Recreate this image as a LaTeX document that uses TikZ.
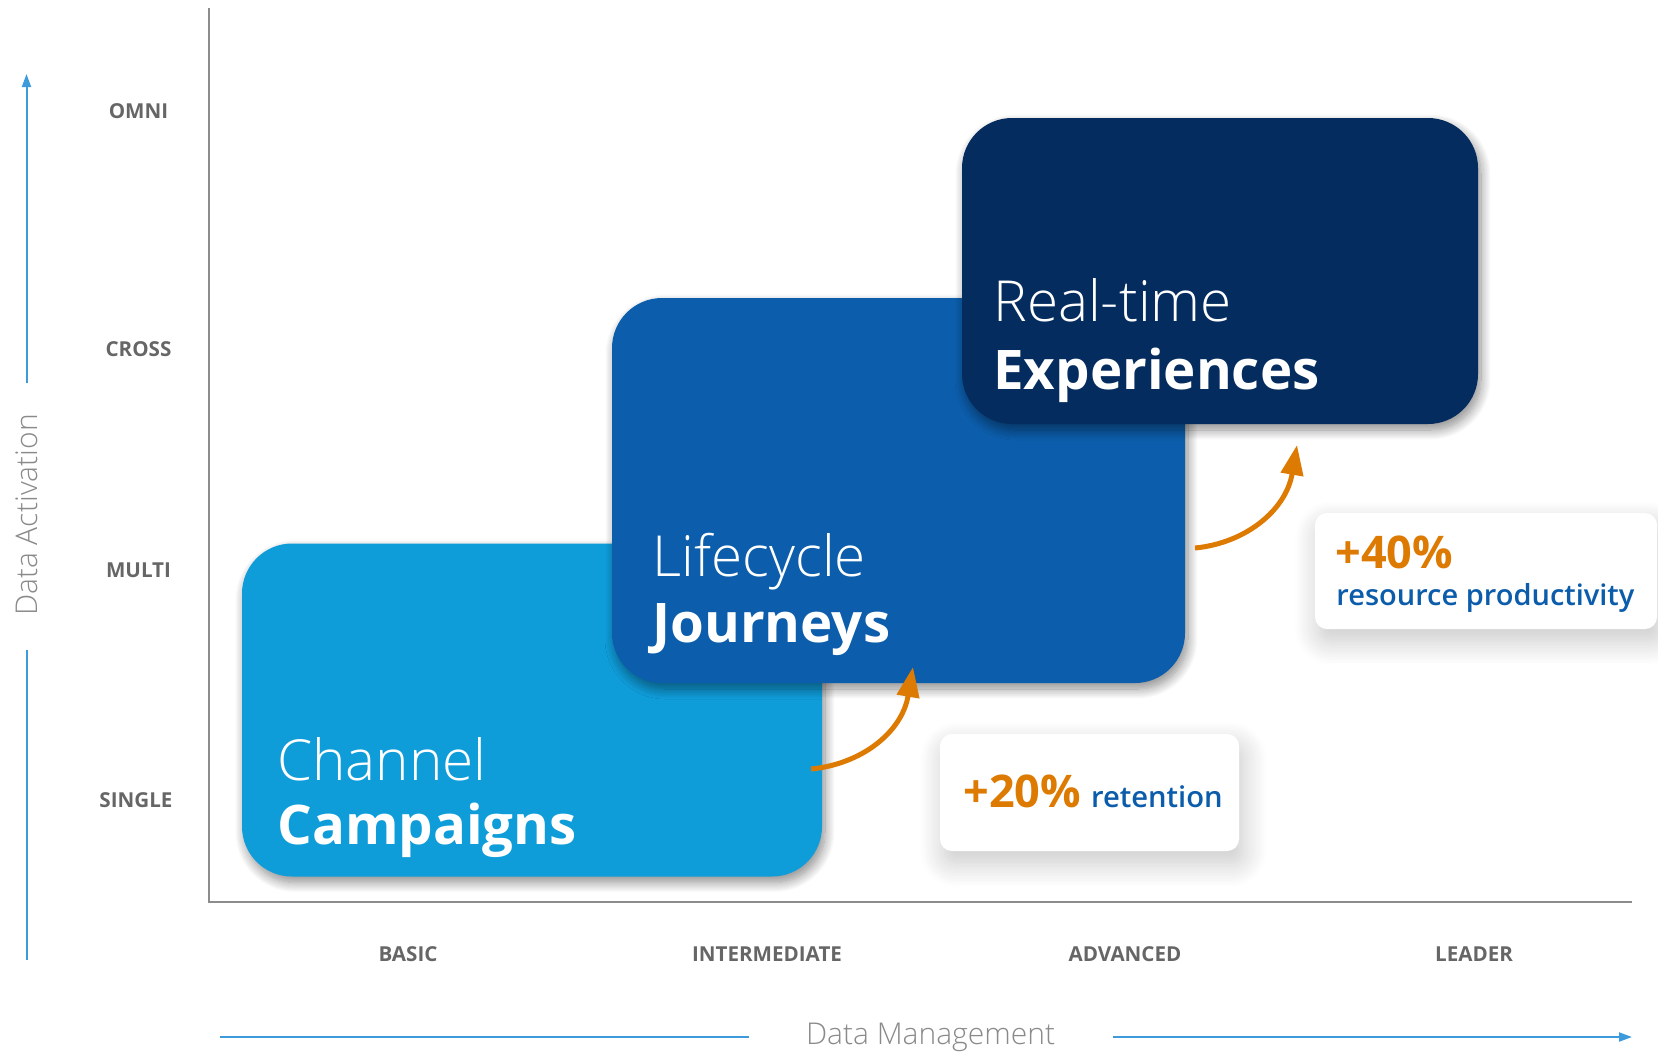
\documentclass[tikz,border=0pt]{standalone}
\usepackage{fontspec}
\setmainfont{Open Sans}
\newfontfamily\lightfont{Open Sans}[UprightFont={* Light}]
\newfontfamily\semifont{Open Sans}[UprightFont={* Semibold}]
\usetikzlibrary{arrows.meta,shadows.blur}

\definecolor{axisgray}{HTML}{8C8C8C}
\definecolor{labelgray}{HTML}{666666}
\definecolor{titlegray}{HTML}{8A8A8A}
\definecolor{axisblue}{HTML}{3D9BDC}
\definecolor{skyblue}{HTML}{0F9DDA}
\definecolor{midblue}{HTML}{0C5DAB}
\definecolor{navy}{HTML}{052C5E}
\definecolor{gainorange}{HTML}{DD7A01}
\definecolor{textblue}{HTML}{0B5CAB}

\begin{document}
\begin{tikzpicture}[x=0.5pt,y=-0.5pt,
  stagebox/.style={rounded corners=25pt, inner sep=0pt, draw=none,
    blur shadow={shadow xshift=1.5pt, shadow yshift=-3pt, shadow blur radius=5pt,
      shadow blur steps=12, shadow opacity=45}},
  gainbox/.style={rounded corners=6pt, fill=white, inner sep=0pt, draw=none,
    blur shadow={shadow xshift=2pt, shadow yshift=-6pt, shadow blur radius=12pt,
      shadow blur steps=16, shadow opacity=22}},
  levelname/.style={font=\bfseries\fontsize{10.3pt}{12pt}\selectfont, text=labelgray},
  axisname/.style={font=\lightfont\fontsize{15pt}{18pt}\selectfont, text=titlegray},
  lighttitle/.style={anchor=base west, inner sep=0pt, text=white,
    font=\lightfont\fontsize{28.3pt}{34pt}\selectfont},
  boldtitle/.style={anchor=base west, inner sep=0pt, text=white,
    font=\bfseries\fontsize{27.3pt}{34pt}\selectfont},
  growarrow/.style={draw=gainorange, line width=2.5pt,
    -{Triangle[length=15pt,width=11pt]}},
  axisarrow/.style={draw=axisblue, line width=1pt},
]
\useasboundingbox (0,0) rectangle (1658,1057);

% chart frame
\coordinate (ytop) at (209,8);
\coordinate (origin) at (209,902);
\coordinate (xend) at (1632,902);
\draw[axisgray, line width=1.3pt] (ytop) -- (origin) -- (xend);

% vertical axis: Data Activation
\node[axisname, rotate=90] (act) at (26.5,515) {Data Activation};
\coordinate (actlow) at (26.5,960);
\coordinate (acthigh) at (26.5,74);
\draw[axisarrow, -{Triangle[length=6.5pt,width=4.5pt]}] (26.5,383) coordinate (actup) -- (acthigh);
\draw[axisarrow] (actlow) -- (26.5,650) coordinate (actdown);

% horizontal axis: Data Management
\node[axisname] (mgmt) at (930.5,1037) {Data Management};
\coordinate (mgmtstart) at (220,1037);
\coordinate (mgmtend) at (1632,1037);
\draw[axisarrow] (mgmtstart) -- (749,1037);
\draw[axisarrow, -{Triangle[length=6.5pt,width=4.5pt]}] (1113,1037) -- (mgmtend);

% level names
\node[levelname] (omni) at (138.5,111) {OMNI};
\node[levelname] (cross) at (138.5,349) {CROSS};
\node[levelname] (multi) at (138.5,570) {MULTI};
\node[levelname] (single) at (136,800) {SINGLE};
\node[levelname] (basic) at (408,954) {BASIC};
\node[levelname] (inter) at (767,954) {INTERMEDIATE};
\node[levelname] (adv) at (1125,954) {ADVANCED};
\node[levelname] (leader) at (1474,954) {LEADER};

% maturity stages
\node[stagebox, fill=skyblue, minimum width=290pt, minimum height=166.5pt] (cc) at (532,710) {};
\node[lighttitle] (cc1) at (277,780) {Channel};
\node[boldtitle] (cc2) at (277,844) {Campaigns};

\node[stagebox, fill=midblue, minimum width=286.5pt, minimum height=192.5pt] (lj) at (898.5,490.5) {};
\node[lighttitle] (lj1) at (652,576) {Lifecycle};
\node[boldtitle] (lj2) at (652,642) {Journeys};

\node[stagebox, fill=navy, minimum width=258pt, minimum height=153pt] (rt) at (1220,271) {};
\node[lighttitle] (rt1) at (993,321) {Real-time};
\node[boldtitle] (rt2) at (993,389) {Experiences};

% gains between stages
\coordinate (g1s) at (811,769);
\coordinate (g1e) at (913,667);
\draw[growarrow] (g1s) .. controls (862,764) and (902,732) .. (g1e);
\coordinate (g2s) at (1195,548);
\coordinate (g2e) at (1297,445);
\draw[growarrow] (g2s) .. controls (1246,543) and (1286,510) .. (g2e);

\node[gainbox, minimum width=149.5pt, minimum height=58.5pt] (r20) at (1089.5,792.5) {};
\node[anchor=base west, inner sep=0pt] (r20t) at (963,807)
  {{\color{gainorange}\bfseries\fontsize{22.5pt}{26pt}\selectfont +20\%}\hspace{5pt}%
   {\color{textblue}\semifont\fontsize{14.6pt}{18pt}\selectfont retention}};

\node[gainbox, minimum width=171pt, minimum height=58pt] (r40) at (1486,571) {};
\node[anchor=base west, inner sep=0pt, text=gainorange,
  font=\bfseries\fontsize{22.5pt}{26pt}\selectfont] (r40a) at (1335,568) {+40\%};
\node[anchor=base west, inner sep=0pt, text=textblue,
  font=\semifont\fontsize{14.5pt}{18pt}\selectfont] (r40b) at (1336,605) {resource productivity};
\end{tikzpicture}
\end{document}
